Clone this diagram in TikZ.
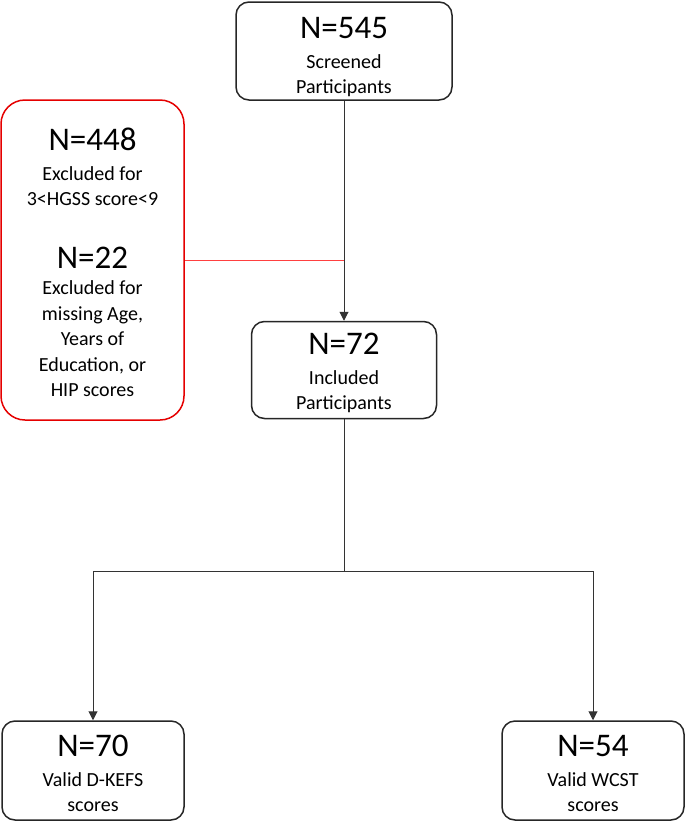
\documentclass[tikz,border=0pt]{standalone}
\usepackage{fontspec}
\setmainfont{Carlito}
\usetikzlibrary{arrows.meta}

% big count line, optional strut to push the text down in its box
\newcommand{\bigN}[2][0pt]{{\fontsize{33}{36}\selectfont\rule{0pt}{#1}#2}}
\newcommand{\subfont}{\fontsize{20}{25.5}\selectfont}

\tikzset{
  flowbox/.style={draw=black!85, line width=1.5pt, rounded corners=13pt,
    align=center, inner sep=0pt, font=\subfont},
  exclbox/.style={draw=red!90!black, line width=1.5pt, rounded corners=24pt,
    align=center, inner sep=0pt, font=\subfont},
  conn/.style={draw=black!80, line width=1pt, -{Triangle[length=9pt,width=9pt]}},
  plain/.style={draw=black!80, line width=1pt},
  redline/.style={draw=red!75, line width=1pt}
}

\begin{document}
\begin{tikzpicture}[x=1pt,y=-1pt]
    \useasboundingbox (0,0) rectangle (685,822);
    % boxes
    \node [flowbox, minimum width=216pt, minimum height=98pt] (screened) at (344,51)
        {\bigN[34pt]{N=545}\\[4pt] Screened\\ Participants};
    \node [exclbox, minimum width=183pt, minimum height=320pt] (excluded) at (92.5,260)
        {\bigN[28pt]{N=448}\\[4pt] Excluded for\\ 3<HGSS score<9\\[37pt]
         \bigN{N=22}\\[1pt] Excluded for\\ missing Age,\\ Years of\\ Education, or\\ HIP scores};
    \node [flowbox, minimum width=185pt, minimum height=97pt] (included) at (344,370)
        {\bigN[28pt]{N=72}\\[4pt] Included\\ Participants};
    \node [flowbox, minimum width=182pt, minimum height=99pt] (dkefs) at (93,770.5)
        {\bigN[28pt]{N=70}\\[4pt] Valid D-KEFS\\ scores};
    \node [flowbox, minimum width=182pt, minimum height=99pt] (wcst) at (593,770.5)
        {\bigN[28pt]{N=54}\\[4pt] Valid WCST\\ scores};
    % connectors
    \coordinate (split) at (344,571);
    \draw [conn] (screened) -- (included);
    \draw [redline] (excluded.east) -- (excluded.east -| screened.south);
    \draw [plain] (included) -- (split);
    \draw [conn] (split) -| (dkefs.north);
    \draw [conn] (split) -| (wcst.north);
\end{tikzpicture}
\end{document}
